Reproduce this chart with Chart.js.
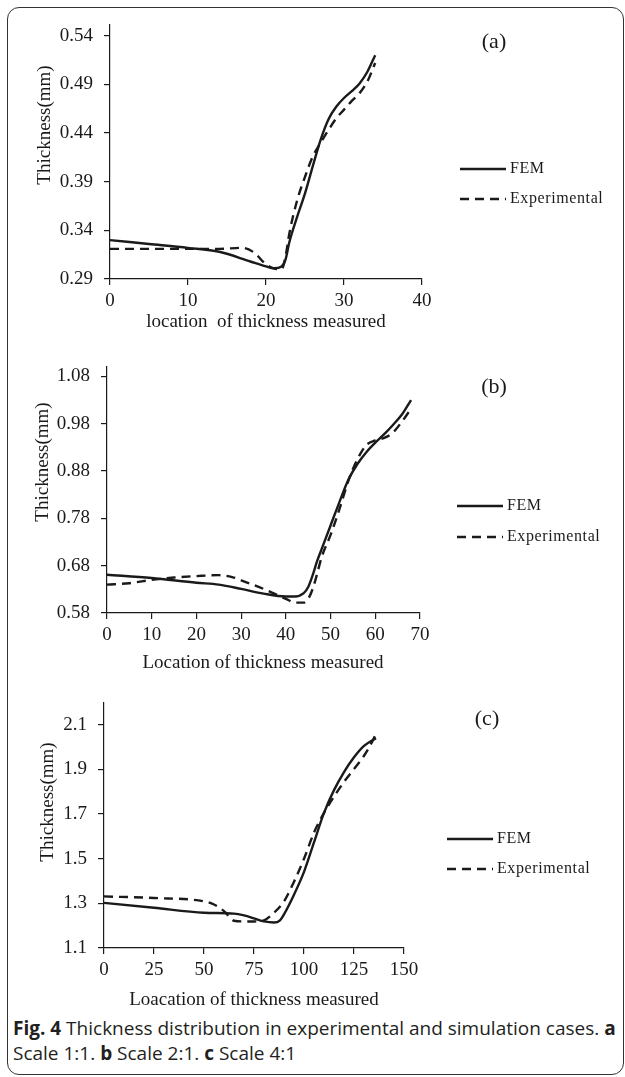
<!DOCTYPE html>
<html>
<head>
<meta charset="utf-8">
<script src="https://cdn.jsdelivr.net/npm/chart.js@4.4.0/dist/chart.umd.min.js"></script>
<style>
    body { margin: 0; background: #fff; }
    #page { position: relative; width: 625px; height: 1077px; overflow: hidden; }
    #frame {
        position: absolute; left: 7px; top: 7px; width: 615px; height: 1066px;
        border: 1.5px solid #333; border-radius: 12px;
    }
    canvas { position: absolute; left: 0; }
    #caption {
        position: absolute; left: 13px; top: 1016px; width: 608px;
        font-family: 'Open Sans', sans-serif; font-size: 19px; line-height: 25px; color: #231f20;
    }
    #caption b { font-weight: 700; }
</style>
</head>
<body>
<div id="page">
    <div id="frame"></div>
    <canvas id="chartA" width="625" height="340" style="top:0px"></canvas>
    <canvas id="chartB" width="625" height="340" style="top:340px"></canvas>
    <canvas id="chartC" width="625" height="330" style="top:680px"></canvas>
    <div id="caption"><b>Fig. 4</b> Thickness distribution in experimental and simulation cases. <b>a</b> Scale 1:1. <b>b</b> Scale 2:1. <b>c</b> Scale 4:1</div>
</div>
<script>
const seriesNames = ['FEM', 'Experimental'];

// (a) scale 1:1
const femAx = [0, 5, 10, 14, 18, 20, 21, 22, 22.5, 23, 24, 25, 26, 27, 28, 29, 30, 31, 32, 33, 34];
const femAy = [0.330, 0.326, 0.322, 0.318, 0.308, 0.303, 0.301, 0.303, 0.310, 0.328, 0.354, 0.378, 0.406, 0.433, 0.454, 0.467, 0.476, 0.483, 0.491, 0.503, 0.520];
const expAx = [0, 5, 10, 14, 17, 18.5, 20, 21, 22, 22.5, 23, 24, 25, 26, 27, 28, 29, 30, 31, 32, 33, 34];
const expAy = [0.321, 0.321, 0.321, 0.321, 0.322, 0.317, 0.305, 0.301, 0.300, 0.313, 0.337, 0.371, 0.395, 0.416, 0.430, 0.443, 0.455, 0.464, 0.473, 0.481, 0.493, 0.512];
const xTicksA = [0, 10, 20, 30, 40];
const yTicksA = [0.29, 0.34, 0.39, 0.44, 0.49, 0.54];

// (b) scale 2:1
const femBx = [0, 10, 20, 25, 30, 35, 40, 42, 44, 45, 46, 47, 48, 50, 52, 54, 56, 58, 60, 62, 64, 66, 68];
const femBy = [0.661, 0.654, 0.644, 0.640, 0.631, 0.621, 0.615, 0.615, 0.622, 0.635, 0.660, 0.690, 0.715, 0.765, 0.815, 0.862, 0.895, 0.920, 0.940, 0.958, 0.978, 1.000, 1.030];
const expBx = [0, 5, 10, 15, 20, 25, 28, 30, 35, 40, 42, 44, 45, 46, 47, 48, 50, 52, 54, 56, 58, 60, 62, 64, 66, 68];
const expBy = [0.640, 0.643, 0.650, 0.655, 0.658, 0.660, 0.656, 0.649, 0.631, 0.610, 0.602, 0.602, 0.610, 0.631, 0.663, 0.698, 0.745, 0.800, 0.860, 0.905, 0.935, 0.945, 0.950, 0.962, 0.985, 1.012];
const xTicksB = [0, 10, 20, 30, 40, 50, 60, 70];
const yTicksB = [0.58, 0.68, 0.78, 0.88, 0.98, 1.08];

// (c) scale 4:1
const femCx = [0, 25, 50, 65, 70, 75, 80, 85, 88, 90, 95, 100, 105, 110, 115, 120, 125, 130, 136];
const femCy = [1.302, 1.280, 1.258, 1.254, 1.246, 1.233, 1.219, 1.214, 1.224, 1.251, 1.339, 1.441, 1.573, 1.705, 1.807, 1.888, 1.954, 2.005, 2.040];
const expCx = [0, 25, 50, 55, 60, 63, 65, 70, 75, 80, 85, 90, 95, 100, 105, 110, 115, 120, 125, 130, 135, 136];
const expCy = [1.331, 1.324, 1.309, 1.295, 1.265, 1.236, 1.222, 1.219, 1.219, 1.224, 1.258, 1.309, 1.397, 1.500, 1.617, 1.705, 1.778, 1.844, 1.902, 1.961, 2.041, 2.063];
const xTicksC = [0, 25, 50, 75, 100, 125, 150];
const yTicksC = [1.1, 1.3, 1.5, 1.7, 1.9, 2.1];

const serif = "'Liberation Serif', 'Times New Roman', serif";
const ink = '#1a1a1a';

function toPoints(xs, ys) {
    return xs.map((x, i) => ({ x: x, y: ys[i] }));
}

// draws axis titles, panel tag and the small legend at fixed spots
const panelDecor = {
    id: 'panelDecor',
    afterDraw(chart, args, o) {
        const ctx = chart.ctx;
        ctx.save();
        ctx.fillStyle = ink;
        ctx.textBaseline = 'middle';

        ctx.font = '19px ' + serif;
        ctx.textAlign = 'center';
        ctx.fillText(o.xTitle, o.xTitlePos[0], o.xTitlePos[1]);
        ctx.save();
        ctx.translate(o.yTitlePos[0], o.yTitlePos[1]);
        ctx.rotate(-Math.PI / 2);
        ctx.fillText(o.yTitle, 0, 0);
        ctx.restore();

        ctx.font = '22px ' + serif;
        ctx.fillText(o.tag, o.tagPos[0], o.tagPos[1]);

        // legend
        ctx.textAlign = 'left';
        ctx.font = '16px ' + serif;
        ctx.letterSpacing = '0.6px';
        chart.data.datasets.forEach((ds, i) => {
            const y = o.legendY[i];
            ctx.beginPath();
            ctx.setLineDash(ds.borderDash || []);
            ctx.lineWidth = ds.borderWidth;
            ctx.strokeStyle = ds.borderColor;
            ctx.moveTo(o.legendX[0], y);
            ctx.lineTo(o.legendX[1], y);
            ctx.stroke();
            ctx.fillText(ds.label, o.legendX[1] + 4, y);
        });
        ctx.restore();
    }
};

function makePanel(id, cfg) {
    const canvas = document.getElementById(id);
    const W = canvas.width, H = canvas.height;
    const area = cfg.area; // left, top, right, bottom in canvas px

    return new Chart(canvas.getContext('2d'), {
        type: 'line',
        data: {
            datasets: [
                {
                    label: seriesNames[0],
                    data: toPoints(cfg.femX, cfg.femY),
                    borderColor: ink,
                    borderWidth: 2.4,
                    pointRadius: 0,
                    cubicInterpolationMode: 'monotone',
                    fill: false
                },
                {
                    label: seriesNames[1],
                    data: toPoints(cfg.expX, cfg.expY),
                    borderColor: ink,
                    borderWidth: 2.4,
                    borderDash: [9, 6],
                    pointRadius: 0,
                    cubicInterpolationMode: 'monotone',
                    fill: false
                }
            ]
        },
        options: {
            responsive: false,
            animation: false,
            layout: {
                padding: { left: 0, top: area[1], right: W - area[2], bottom: 0 }
            },
            scales: {
                x: {
                    type: 'linear',
                    min: cfg.xTicks[0],
                    max: cfg.xTicks[cfg.xTicks.length - 1],
                    afterBuildTicks: (s) => { s.ticks = cfg.xTicks.map(v => ({ value: v })); },
                    afterFit: (s) => { s.height = H - area[3]; },
                    grid: { display: true, drawOnChartArea: false, drawTicks: true, tickLength: 6, color: ink, lineWidth: 1.2 },
                    border: { display: true, color: ink, width: 1.2 },
                    ticks: {
                        color: ink,
                        padding: 5,
                        maxRotation: 0,
                        autoSkip: false,
                        font: { family: serif, size: 19 }
                    }
                },
                y: {
                    type: 'linear',
                    min: cfg.yMin,
                    max: cfg.yMax,
                    afterBuildTicks: (s) => { s.ticks = cfg.yTicks.map(v => ({ value: v })); },
                    afterFit: (s) => { s.width = area[0]; },
                    grid: { display: true, drawOnChartArea: false, drawTicks: true, tickLength: 6, color: ink, lineWidth: 1.2 },
                    border: { display: true, color: ink, width: 1.2 },
                    ticks: {
                        color: ink,
                        padding: 11,
                        autoSkip: false,
                        font: { family: serif, size: 19 },
                        callback: (v) => cfg.yFmt(v)
                    }
                }
            },
            plugins: {
                legend: { display: false },
                tooltip: { enabled: false },
                panelDecor: cfg.decor
            }
        },
        plugins: [panelDecor]
    });
}

window.onload = function() {
    makePanel('chartA', {
        area: [110, 25, 422, 279],
        femX: femAx, femY: femAy, expX: expAx, expY: expAy,
        xTicks: xTicksA, yTicks: yTicksA, yMin: 0.29, yMax: 0.551,
        yFmt: v => v.toFixed(2),
        decor: {
            xTitle: 'location  of thickness measured', xTitlePos: [266, 322],
            yTitle: 'Thickness(mm)', yTitlePos: [45, 125],
            tag: '(a)', tagPos: [494, 42],
            legendX: [460, 506], legendY: [169, 199]
        }
    });

    makePanel('chartB', {
        area: [107, 27, 420, 273],
        femX: femBx, femY: femBy, expX: expBx, expY: expBy,
        xTicks: xTicksB, yTicks: yTicksB, yMin: 0.58, yMax: 1.10,
        yFmt: v => v.toFixed(2),
        decor: {
            xTitle: 'Location of thickness measured', xTitlePos: [263, 323],
            yTitle: 'Thickness(mm)', yTitlePos: [43, 122],
            tag: '(b)', tagPos: [494, 47],
            legendX: [457, 503], legendY: [166, 197]
        }
    });

    makePanel('chartC', {
        area: [104, 17, 404, 268],
        femX: femCx, femY: femCy, expX: expCx, expY: expCy,
        xTicks: xTicksC, yTicks: yTicksC, yMin: 1.1, yMax: 2.2,
        yFmt: v => v.toFixed(1),
        decor: {
            xTitle: 'Loacation of thickness measured', xTitlePos: [254, 320],
            yTitle: 'Thickness(mm)', yTitlePos: [48, 122],
            tag: '(c)', tagPos: [487, 39],
            legendX: [447, 493], legendY: [159, 189]
        }
    });
};
</script>
</body>
</html>
